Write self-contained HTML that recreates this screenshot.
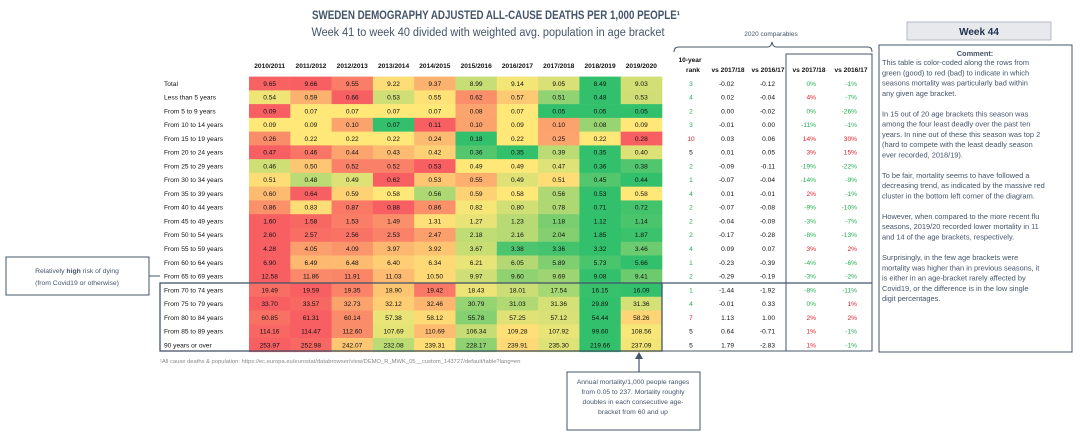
<!DOCTYPE html>
<html><head><meta charset="utf-8">
<style>
body{margin:0;background:#fff;font-family:"Liberation Sans",sans-serif;}
svg{display:block}
</style></head><body>
<svg id="chart" width="1080" height="433" viewBox="0 0 1080 433" xmlns="http://www.w3.org/2000/svg" font-family="Liberation Sans, sans-serif">
<text x="496" y="19" text-anchor="middle" font-size="11.5" font-weight="bold" fill="#44546a" textLength="368" lengthAdjust="spacingAndGlyphs">SWEDEN DEMOGRAPHY ADJUSTED ALL-CAUSE DEATHS PER 1,000 PEOPLE¹</text>
<text x="488" y="36" text-anchor="middle" font-size="11.5" fill="#44546a" textLength="353" lengthAdjust="spacingAndGlyphs">Week 41 to week 40 divided with weighted avg. population in age bracket</text>
<text x="771" y="36" text-anchor="middle" font-size="6.5" fill="#44546a">2020 comparables</text>
<path d="M674,52 Q674,47 679,47 L768,47 Q771,47 772,42 Q773,47 776,47 L868,47 Q872,47 872,52" fill="none" stroke="#44546a" stroke-width="1"/>
<g id="grid"></g>
<rect x="160" y="283" width="502" height="68" fill="none" stroke="#44546a" stroke-width="1.3"/>
<line x1="662" y1="283" x2="872" y2="283" stroke="#44546a" stroke-width="1.3"/>
<line x1="662" y1="351" x2="872" y2="351" stroke="#44546a" stroke-width="1"/>
<rect x="786" y="54" width="86" height="297" fill="none" stroke="#44546a" stroke-width="1"/>
<text x="160" y="363" font-size="5.8" fill="#888">¹All cause deaths &amp; population: https://ec.europa.eu/eurostat/databrowser/view/DEMO_R_MWK_05__custom_143727/default/table?lang=en</text>
<g>
<rect x="6" y="257" width="143" height="38" fill="#fff" stroke="#44546a" stroke-width="1"/>
<text x="77" y="273" text-anchor="middle" font-size="6.8" fill="#44546a">Relatively <tspan font-weight="bold">high</tspan> risk of dying</text>
<text x="77" y="285" text-anchor="middle" font-size="6.8" fill="#44546a">(from Covid19 or otherwise)</text>
<line x1="149" y1="276" x2="160" y2="276" stroke="#44546a"/>
</g>
<g>
<line x1="639" y1="372" x2="639" y2="358" stroke="#44546a" stroke-width="1.2"/>
<path d="M635,359 L639,352 L643,359 Z" fill="#44546a"/>
<rect x="567" y="372" width="133" height="58" fill="#fff" stroke="#44546a" stroke-width="1"/>
<text x="633" y="384" text-anchor="middle" font-size="6.8" fill="#44546a">Annual mortality/1,000 people ranges</text>
<text x="633" y="394" text-anchor="middle" font-size="6.8" fill="#44546a">from 0.05 to 237. Mortality roughly</text>
<text x="633" y="404" text-anchor="middle" font-size="6.8" fill="#44546a">doubles in each consecutive age-</text>
<text x="633" y="414" text-anchor="middle" font-size="6.8" fill="#44546a">bracket from 60 and up</text>
</g>
<g>
<rect x="907" y="22" width="144" height="18" fill="#e7e9ec" stroke="#aab" stroke-width="0.8"/>
<text x="979" y="35" text-anchor="middle" font-size="10" font-weight="bold" fill="#1f3050">Week 44</text>
</g>
<g>
<rect x="879" y="45" width="193" height="307" fill="#fff" stroke="#44546a" stroke-width="1"/>
<g font-size="7.4" fill="#44546a">
<text x="975" y="56" text-anchor="middle" font-weight="bold">Comment:</text>
<text x="882" y="65">This table is color-coded along the rows from</text>
<text x="882" y="75.3">green (good) to red (bad) to indicate in which</text>
<text x="882" y="85.5">seasons mortality was particularly bad within</text>
<text x="882" y="95.8">any given age bracket.</text>
<text x="882" y="116.3">In 15 out of 20 age brackets this season was</text>
<text x="882" y="126.6">among the four least deadly over the past ten</text>
<text x="882" y="136.8">years. In nine out of these this season was top 2</text>
<text x="882" y="147.1">(hard to compete with the least deadly season</text>
<text x="882" y="157.4">ever recorded, 2018/19).</text>
<text x="882" y="177.9">To be fair, mortality seems to have followed a</text>
<text x="882" y="188.2">decreasing trend, as indicated by the massive red</text>
<text x="882" y="198.4">cluster in the bottom left corner of the diagram.</text>
<text x="882" y="219">However, when compared to the more recent flu</text>
<text x="882" y="229.2">seasons, 2019/20 recorded lower mortality in 11</text>
<text x="882" y="239.5">and 14 of the age brackets, respectively.</text>
<text x="882" y="260">Surprisingly, in the few age brackets were</text>
<text x="882" y="270.3">mortality was higher than in previous seasons, it</text>
<text x="882" y="280.6">is either in an age-bracket rarely affected by</text>
<text x="882" y="290.8">Covid19, or the difference is in the low single</text>
<text x="882" y="301">digit percentages.</text>
</g>
</g>
</svg>
<script>
const seasons=["2010/2011","2011/2012","2012/2013","2013/2014","2014/2015","2015/2016","2016/2017","2017/2018","2018/2019","2019/2020"];
const ageGroups=["Total","Less than 5 years","From 5 to 9 years","From 10 to 14 years","From 15 to 19 years","From 20 to 24 years","From 25 to 29 years","From 30 to 34 years","From 35 to 39 years","From 40 to 44 years","From 45 to 49 years","From 50 to 54 years","From 55 to 59 years","From 60 to 64 years","From 65 to 69 years","From 70 to 74 years","From 75 to 79 years","From 80 to 84 years","From 85 to 89 years","90 years or over"];
const rates=[
[9.65,9.66,9.55,9.22,9.37,8.99,9.14,9.05,8.49,9.03],
[0.54,0.59,0.66,0.53,0.55,0.62,0.57,0.51,0.48,0.53],
[0.09,0.07,0.07,0.07,0.07,0.08,0.07,0.05,0.05,0.05],
[0.09,0.09,0.10,0.07,0.11,0.10,0.09,0.10,0.08,0.09],
[0.26,0.22,0.22,0.22,0.24,0.18,0.22,0.25,0.22,0.28],
[0.47,0.46,0.44,0.43,0.42,0.36,0.35,0.39,0.35,0.40],
[0.46,0.50,0.52,0.52,0.53,0.49,0.49,0.47,0.36,0.38],
[0.51,0.48,0.49,0.62,0.53,0.55,0.49,0.51,0.45,0.44],
[0.60,0.64,0.59,0.58,0.56,0.59,0.58,0.56,0.53,0.58],
[0.86,0.83,0.87,0.88,0.86,0.82,0.80,0.78,0.71,0.72],
[1.60,1.58,1.53,1.49,1.31,1.27,1.23,1.18,1.12,1.14],
[2.60,2.57,2.56,2.53,2.47,2.18,2.16,2.04,1.85,1.87],
[4.28,4.05,4.09,3.97,3.92,3.67,3.38,3.36,3.32,3.46],
[6.90,6.49,6.48,6.40,6.34,6.21,6.05,5.89,5.73,5.66],
[12.58,11.86,11.91,11.03,10.50,9.97,9.60,9.69,9.08,9.41],
[19.49,19.59,19.35,18.90,19.42,18.43,18.01,17.54,16.15,16.09],
[33.70,33.57,32.73,32.12,32.46,30.79,31.03,31.36,29.89,31.36],
[60.85,61.31,60.14,57.38,58.12,55.78,57.25,57.12,54.44,58.26],
[114.16,114.47,112.60,107.69,110.69,106.34,109.28,107.92,99.60,108.56],
[253.97,252.98,242.07,232.08,239.31,228.17,239.91,235.30,219.66,237.09]];
const ranks=[3,4,2,3,10,5,2,1,4,2,2,2,4,1,2,1,4,7,5,5];
const diff1718=[-0.02,0.02,0.00,-0.01,0.03,0.01,-0.09,-0.07,0.01,-0.07,-0.04,-0.17,0.09,-0.23,-0.29,-1.44,-0.01,1.13,0.64,1.79];
const diff1617=[-0.12,-0.04,-0.02,0.00,0.06,0.05,-0.11,-0.04,-0.01,-0.08,-0.09,-0.28,0.07,-0.39,-0.19,-1.92,0.33,1.00,-0.71,-2.83];
const pct1718=[0,4,0,-11,14,3,-19,-14,2,-9,-3,-8,3,-4,-3,-8,0,2,1,1];
const pct1617=[-1,-7,-26,-1,30,15,-22,-9,-1,-10,-7,-13,2,-6,-2,-11,1,2,-1,-1];

const NS="http://www.w3.org/2000/svg";
const g=document.getElementById('grid');
const x0=249,cw=41.3,y0=76.6,rh=13.76;
const xCol=i=>x0+i*cw;
const yRow=r=>y0+r*rh;
function mk(tag,attrs,txt){const e=document.createElementNS(NS,tag);for(const k in attrs)e.setAttribute(k,attrs[k]);if(txt!==undefined)e.textContent=txt;g.appendChild(e);return e;}
const R=[248,95,98],Y=[255,232,120],G=[50,192,108];
function mix(a,b,t){return 'rgb('+a.map((v,i)=>Math.round(v+(b[i]-v)*t)).join(',')+')';}
function color(v,row){const s=[...row].sort((a,b)=>a-b);const mn=s[0],mx=s[s.length-1];const md=(s[4]+s[5])/2;
 if(v<=md){return mix(G,Y,md===mn?1:(v-mn)/(md-mn));}return mix(Y,R,mx===md?0:(v-md)/(mx-md));}
seasons.forEach((s,i)=>{const t=mk('text',{x:xCol(i)+cw/2,y:68,'text-anchor':'middle','font-size':6.6,'font-weight':'bold',fill:'#111'},s);
});
[['10-year',690,62],['rank',693,72],['vs 2017/18',728,72],['vs 2016/17',768,72],['vs 2017/18',809,72],['vs 2016/17',851,72]].forEach(h=>{
const t=mk('text',{x:h[1],y:h[2],'text-anchor':'middle','font-size':6.6,'font-weight':'bold',fill:'#111'},h[0]);
});
const grn='#22b04f',red='#e0202a';
ageGroups.forEach((a,r)=>{
 const yc=yRow(r)+rh/2+2.4;
 const l=mk('text',{x:164,y:yc,'font-size':6.6,fill:'#111'},a);
 
 rates[r].forEach((v,i)=>{
  const c=mk('rect',{x:xCol(i),y:yRow(r),width:cw+0.3,height:rh+0.3,fill:color(v,rates[r])});
  
  const t=mk('text',{x:xCol(i)+cw/2,y:yc,'text-anchor':'middle','font-size':6.6,fill:'#111'},v.toFixed(2));
  
 });
 const rk=ranks[r];
 const t1=mk('text',{x:691,y:yc,'text-anchor':'middle','font-size':6.6,fill:rk<=4?grn:(rk>=7?red:'#111')},rk);
 
 const t2=mk('text',{x:734,y:yc,'text-anchor':'end','font-size':6.6,fill:'#111'},diff1718[r].toFixed(2));
 
 const t3=mk('text',{x:775,y:yc,'text-anchor':'end','font-size':6.6,fill:'#111'},diff1617[r].toFixed(2));
 
 const t4=mk('text',{x:816,y:yc,'text-anchor':'end','font-size':6.6,fill:pct1718[r]>0?red:grn},pct1718[r]+'%');
 
 const t5=mk('text',{x:857,y:yc,'text-anchor':'end','font-size':6.6,fill:pct1617[r]>0?red:grn},pct1617[r]+'%');
 
});
</script>
</body></html>
